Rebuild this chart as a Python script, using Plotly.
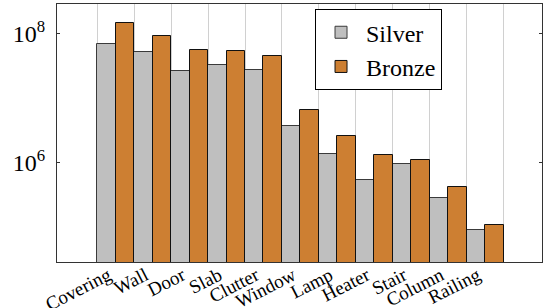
import plotly.graph_objects as go

categories = ["Covering", "Wall", "Door", "Slab", "Clutter", "Window",
              "Lamp", "Heater", "Stair", "Column", "Railing"]
silver = [6.9e7, 5.2e7, 2.67e7, 3.34e7, 2.73e7, 3.75e6,
          1.37e6, 5.45e5, 9.6e5, 2.84e5, 9.06e4]
bronze = [1.48e8, 9.2e7, 5.7e7, 5.45e7, 4.5e7, 6.56e6,
          2.62e6, 1.33e6, 1.11e6, 4.2e5, 1.1e5]
ytick_vals = [1e6, 1e8]
ytick_text = ["10<sup>6</sup>", "10<sup>8</sup>"]

n = len(categories)
idx = list(range(n))
font_family = "Liberation Serif, Times New Roman, serif"

fig = go.Figure()
fig.add_trace(go.Bar(
    x=[i + 0.25 for i in idx], y=silver, width=0.5, name="Silver",
    marker=dict(color="#bfbfbf", line=dict(color="#3a3a3a", width=1)),
))
fig.add_trace(go.Bar(
    x=[i + 0.75 for i in idx], y=bronze, width=0.5, name="Bronze",
    marker=dict(color="#cd7f32", line=dict(color="#111111", width=1)),
))
# invisible trace to carry category labels on second x axis
fig.add_trace(go.Scatter(x=[i + 0.3 for i in idx], y=silver, xaxis="x2",
                         mode="markers", marker=dict(opacity=0),
                         showlegend=False, hoverinfo="skip"))

xr = [-1.09, 12.04]
fig.update_layout(
    width=543, height=308,
    margin=dict(l=57, r=1, t=4, b=46),
    paper_bgcolor="white", plot_bgcolor="white",
    font=dict(family=font_family, color="black"),
    showlegend=True,
    legend=dict(x=0.532, y=0.98, xanchor="left", yanchor="top",
                bordercolor="black", borderwidth=1, bgcolor="white",
                font=dict(size=24, family=font_family),
                tracegroupgap=0, itemwidth=40),
    xaxis=dict(range=xr, tickvals=list(range(n + 1)),
               showticklabels=False, showgrid=True, gridcolor="#d0d0d0",
               gridwidth=1, zeroline=False, ticks="",
               showline=True, linecolor="#333333", linewidth=1, mirror=True,
               automargin=False),
    xaxis2=dict(range=xr, overlaying="x", side="bottom",
                tickvals=[i + 0.3 for i in idx], ticktext=categories,
                tickangle=-27, tickfont=dict(size=19, family=font_family),
                showgrid=False, zeroline=False, ticks="", showline=False,
                ticklabelstandoff=-2, automargin=False),
    yaxis=dict(type="log", range=[4.464, 8.464], tickvals=ytick_vals,
               ticktext=ytick_text, tickfont=dict(size=24, family=font_family),
               showgrid=False, zeroline=False, ticks="inside", ticklen=3,
               tickcolor="#333333", ticklabelstandoff=6,
               showline=True, linecolor="#333333", linewidth=1, mirror="ticks",
               automargin=False),
    bargap=0,
)
fig.write_html("out.html", config={"displayModeBar": False},
               post_script="document.body.style.margin='0';")
